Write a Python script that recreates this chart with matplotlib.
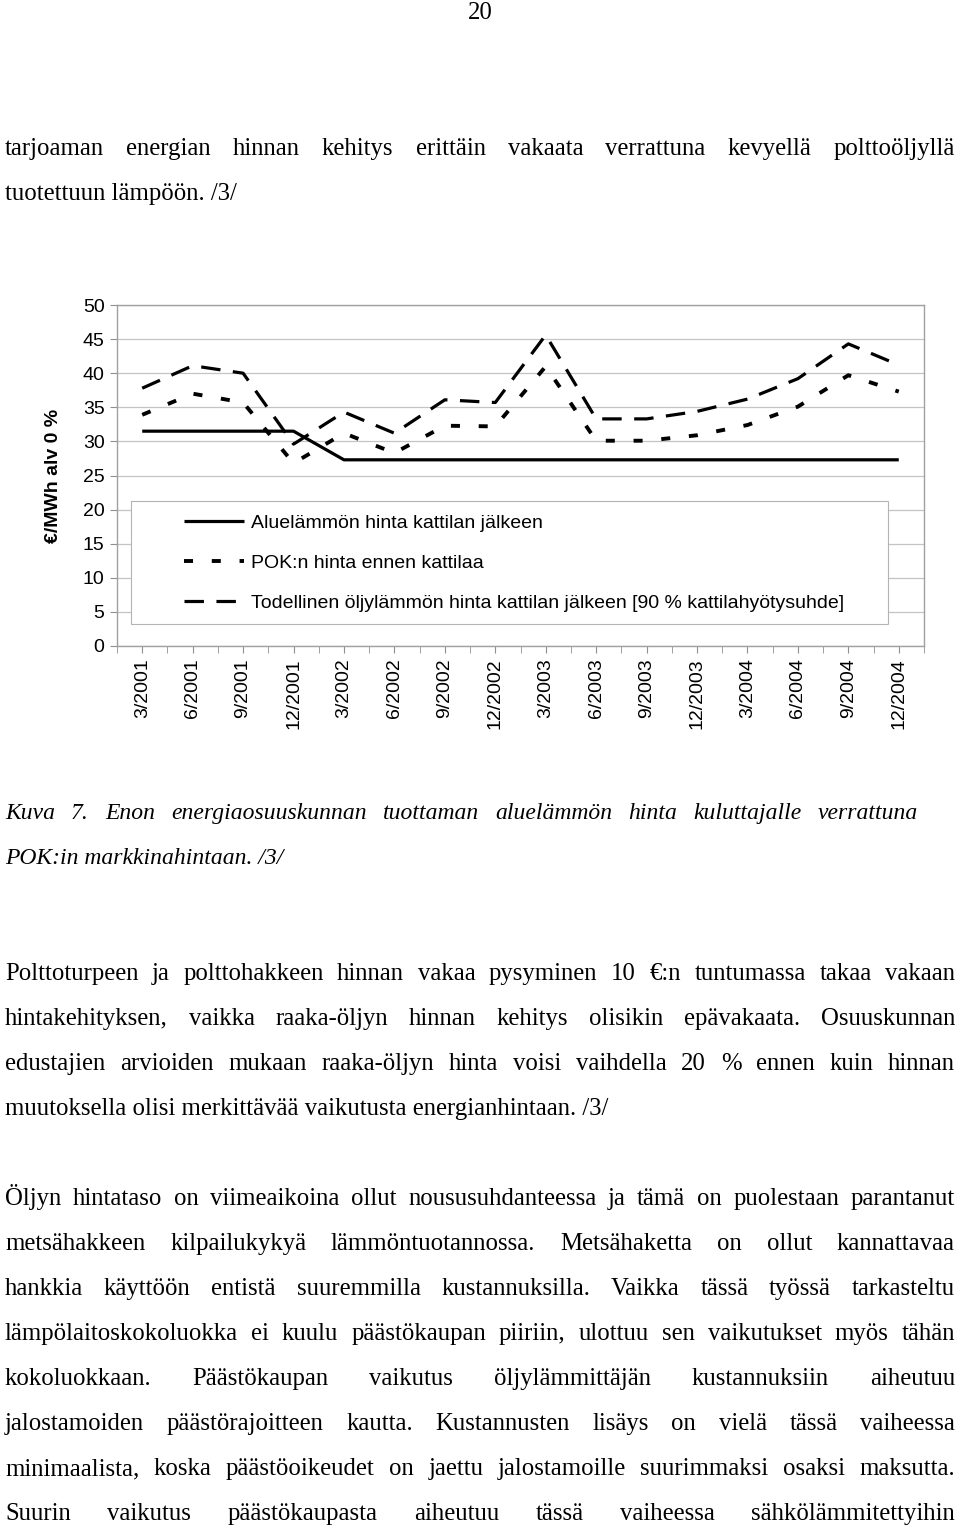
import matplotlib
matplotlib.use("Agg")
import matplotlib.pyplot as plt
from matplotlib.patches import Rectangle

plt.rcParams['lines.scale_dashes'] = False

# chart data, quarterly
quarters = ["3/2001", "6/2001", "9/2001", "12/2001",
            "3/2002", "6/2002", "9/2002", "12/2002",
            "3/2003", "6/2003", "9/2003", "12/2003",
            "3/2004", "6/2004", "9/2004", "12/2004"]
aluelampo = [31.5, 31.5, 31.5, 31.5, 27.3, 27.3, 27.3, 27.3,
             27.3, 27.3, 27.3, 27.3, 27.3, 27.3, 27.3, 27.3]
pok = [33.9, 37.0, 35.7, 26.8, 31.2, 28.3, 32.3, 32.2,
       41.0, 30.1, 30.1, 30.9, 32.4, 35.1, 39.7, 37.3]
todellinen = [37.8, 41.1, 40.0, 29.6, 34.3, 31.2, 36.1, 35.7,
              45.6, 33.3, 33.3, 34.4, 36.2, 39.2, 44.3, 41.2]
series_names = ["Aluelämmön hinta kattilan jälkeen",
                "POK:n hinta ennen kattilaa",
                "Todellinen öljylämmön hinta kattilan jälkeen [90 % kattilahyötysuhde]"]
y_ticks = [0, 5, 10, 15, 20, 25, 30, 35, 40, 45, 50]

# page text
page_no = "20"
intro = ["tarjoaman energian hinnan kehitys erittäin vakaata verrattuna kevyellä polttoöljyllä",
         "tuotettuun lämpöön. /3/"]
caption = ["Kuva 7. Enon energiaosuuskunnan tuottaman aluelämmön hinta kuluttajalle verrattuna",
           "POK:in markkinahintaan. /3/"]
para1 = ["Polttoturpeen ja polttohakkeen hinnan vakaa pysyminen 10 €:n tuntumassa takaa vakaan",
         "hintakehityksen, vaikka raaka-öljyn hinnan kehitys olisikin epävakaata. Osuuskunnan",
         "edustajien arvioiden mukaan raaka-öljyn hinta voisi vaihdella 20 % ennen kuin hinnan",
         "muutoksella olisi merkittävää vaikutusta energianhintaan. /3/"]
para2 = ["Öljyn hintataso on viimeaikoina ollut noususuhdanteessa ja tämä on puolestaan parantanut",
         "metsähakkeen kilpailukykyä lämmöntuotannossa. Metsähaketta on ollut kannattavaa",
         "hankkia käyttöön entistä suuremmilla kustannuksilla. Vaikka tässä työssä tarkasteltu",
         "lämpölaitoskokoluokka ei kuulu päästökaupan piiriin, ulottuu sen vaikutukset myös tähän",
         "kokoluokkaan. Päästökaupan vaikutus öljylämmittäjän kustannuksiin aiheutuu",
         "jalostamoiden päästörajoitteen kautta. Kustannusten lisäys on vielä tässä vaiheessa",
         "minimaalista, koska päästöoikeudet on jaettu jalostamoille suurimmaksi osaksi maksutta.",
         "Suurin vaikutus päästökaupasta aiheutuu tässä vaiheessa sähkölämmitettyihin"]

W, H = 960, 1528
fig = plt.figure(figsize=(W / 100, H / 100), dpi=100)
renderer = fig.canvas.get_renderer()

serif = "Liberation Serif"
sans = "Liberation Sans"
body_size = 17.8
cap_size = 17


def put_line(line, y, justify=False, x0=5, x1=955, style="normal", size=body_size):
    # y is the baseline in pixels from top
    yf = 1 - y / H
    if not justify:
        fig.text(x0 / W, yf, line, family=serif, size=size, style=style,
                 va="baseline", ha="left")
        return
    words = line.split()
    txts = [fig.text(0, yf, w, family=serif, size=size, style=style,
                     va="baseline", ha="left") for w in words]
    widths = [t.get_window_extent(renderer).width for t in txts]
    gap = (x1 - x0 - sum(widths)) / (len(words) - 1)
    x = x0
    for t, w in zip(txts, widths):
        t.set_x(x / W)
        x += w + gap


fig.text(0.5, 1 - 19 / H, page_no, family=serif, size=body_size, ha="center", va="baseline")

put_line(intro[0], 155, justify=True)
put_line(intro[1], 200)

put_line(caption[0], 819, justify=True, x1=918, style="italic", size=cap_size)
put_line(caption[1], 864, style="italic", size=cap_size)

for i, line in enumerate(para1):
    put_line(line, 980 + 45 * i, justify=(i < len(para1) - 1))
for i, line in enumerate(para2):
    put_line(line, 1205 + 45 * i, justify=True)

# chart
ax = fig.add_axes([117 / W, 1 - 646 / H, 807 / W, 341 / H])
x = range(len(quarters))
l1, = ax.plot(x, aluelampo, color="black", lw=2.3, solid_capstyle="butt")
l2, = ax.plot(x, pok, color="black", lw=2.8, linestyle=(0, (6.5, 13.5)))
l3, = ax.plot(x, todellinen, color="black", lw=2.3, linestyle=(0, (14, 9)))

ax.set_xlim(-0.5, len(quarters) - 0.5)
ax.set_ylim(0, 50)
ax.set_yticks(y_ticks)
ax.set_yticklabels([str(v) for v in y_ticks], family=sans, fontsize=14)
ax.set_xticks(list(x))
ax.set_xticklabels(quarters, rotation=90, family=sans, fontsize=14)
ax.set_xticks([i - 0.5 for i in range(len(quarters) + 1)], minor=True)
ax.tick_params(axis="both", which="both", length=5, color="#909090", pad=4)
ax.tick_params(axis="x", pad=4)
ax.grid(axis="y", color="#c4c4c4", lw=0.9)
ax.set_axisbelow(True)
for s in ax.spines.values():
    s.set_color("#a0a0a0")
    s.set_linewidth(1.0)

ax.set_ylabel("€/MWh alv 0 %", family=sans, fontsize=14, fontweight="bold")
ax.yaxis.set_label_coords(-0.068, 0.5)

# legend box
box = Rectangle((0.0173, 0.0645), 0.938, 0.36, transform=ax.transAxes,
                facecolor="white", edgecolor="#b4b4b4", lw=0.8, zorder=2.5)
ax.add_patch(box)
leg = ax.legend([l1, l2, l3], series_names, loc="upper left",
                bbox_to_anchor=(0.083, 0.387), frameon=False,
                prop={"family": sans, "size": 14}, handlelength=3.1,
                handletextpad=0.36, labelspacing=1.16, borderpad=0, borderaxespad=0)
leg.set_zorder(3)

fig.savefig("out.png", dpi=100)
